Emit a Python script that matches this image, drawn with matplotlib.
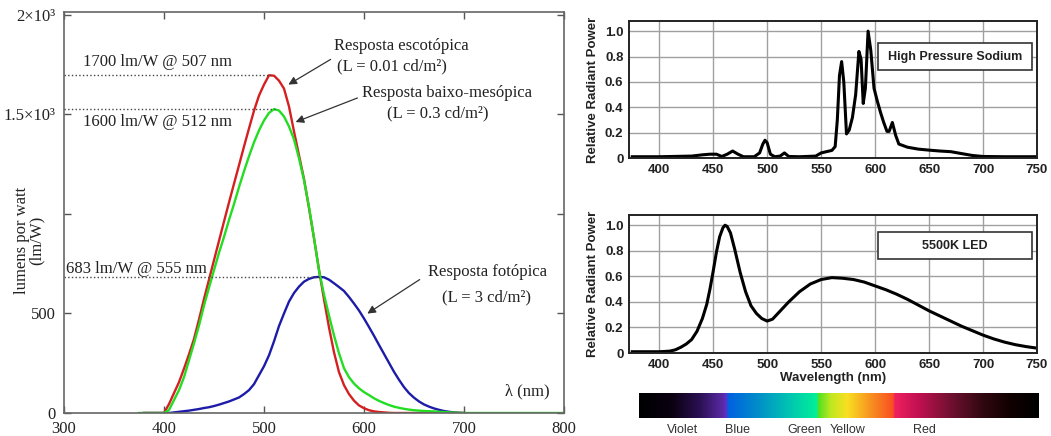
import numpy as np
import matplotlib
matplotlib.use('Agg')
import matplotlib.pyplot as plt
from matplotlib.colors import LinearSegmentedColormap
from matplotlib.patches import Rectangle

# Curvas de eficácia luminosa, passo de 5 nm de 380 a 700 nm
wl = np.arange(380, 705, 5)

escotopica = [0, 0, 0, 0, 0, 45, 100, 155, 223, 295,
              372, 470, 573, 670, 768, 865, 962, 1058, 1152, 1245,
              1339, 1430, 1519, 1595, 1650, 1697, 1695, 1670, 1630, 1540,
              1415, 1295, 1176, 1030, 878, 720, 571, 430, 305, 205,
              140, 95, 62, 38, 24, 14, 8, 5, 3, 1,
              0, 0, 0, 0, 0, 0, 0, 0, 0, 0,
              0, 0, 0, 0, 0]

mesopica = [0, 0, 0, 0, 0, 15, 65, 115, 180, 265,
            350, 440, 540, 630, 718, 805, 885, 970, 1050, 1135,
            1215, 1290, 1360, 1420, 1470, 1508, 1527, 1520, 1490, 1440,
            1375, 1280, 1170, 1035, 880, 715, 595, 490, 390, 300,
            225, 180, 148, 124, 105, 90, 74, 61, 50, 40,
            32, 26, 21, 17, 14, 12, 10, 9, 8, 6,
            5, 3, 2, 1, 0]

fotopica = [0, 0, 0, 0, 0, 0, 3, 6, 9, 12,
            16, 20, 25, 29, 35, 42, 50, 58, 68, 78,
            95, 115, 145, 190, 235, 290, 360, 437, 500, 560,
            603, 635, 660, 674, 682, 684, 682, 670, 652, 633,
            613, 583, 550, 515, 475, 432, 388, 342, 297, 252,
            207, 167, 130, 100, 77, 58, 43, 32, 23, 16,
            10, 6, 3, 1, 0]

# Espectro da lâmpada de sódio de alta pressão
hps_wl = [375, 400, 430, 440, 447, 453, 458, 463, 468, 473, 478, 488, 493, 496,
          498, 500, 503, 507, 512, 516, 520, 530, 545, 550, 555, 560, 563, 565,
          567, 569, 571, 573.5, 576, 579, 582, 585, 587, 589, 591, 593.5, 596,
          599, 602, 605, 608, 611, 613, 616, 619, 622, 630, 640, 650, 660, 670,
          680, 690, 700, 720, 750]
hps_pw = [0.01, 0.01, 0.015, 0.025, 0.03, 0.03, 0.012, 0.03, 0.055, 0.03, 0.01,
          0.01, 0.04, 0.11, 0.14, 0.12, 0.03, 0.01, 0.015, 0.04, 0.012, 0.01,
          0.015, 0.04, 0.05, 0.06, 0.09, 0.3, 0.65, 0.76, 0.6, 0.19, 0.22, 0.32,
          0.5, 0.84, 0.78, 0.43, 0.55, 1.0, 0.85, 0.55, 0.45, 0.36, 0.28, 0.21,
          0.21, 0.28, 0.18, 0.11, 0.085, 0.07, 0.062, 0.055, 0.05, 0.035, 0.02,
          0.012, 0.01, 0.01]

# Espectro do LED 5500K
led_wl = [375, 390, 400, 405, 410, 415, 420, 425, 430, 435, 440, 444, 447, 450,
          453, 456, 459, 461, 463, 466, 470, 475, 480, 485, 490, 495, 500, 505,
          510, 520, 530, 540, 550, 560, 570, 580, 590, 600, 610, 620, 630, 640,
          650, 660, 670, 680, 690, 700, 710, 720, 730, 740, 750]
led_pw = [0.01, 0.01, 0.01, 0.012, 0.015, 0.025, 0.045, 0.07, 0.105, 0.17, 0.27,
          0.38, 0.5, 0.64, 0.79, 0.91, 0.98, 1.0, 0.99, 0.94, 0.81, 0.63, 0.48,
          0.37, 0.31, 0.27, 0.25, 0.265, 0.31, 0.4, 0.48, 0.54, 0.575, 0.59,
          0.585, 0.575, 0.555, 0.525, 0.495, 0.46, 0.42, 0.375, 0.33, 0.29, 0.25,
          0.21, 0.175, 0.14, 0.11, 0.085, 0.065, 0.05, 0.038]

# Barra de cores do espectro visível
bar_pos = [0.0, 0.08, 0.15, 0.21, 0.218, 0.222, 0.30, 0.38, 0.445, 0.448, 0.48,
           0.52, 0.58, 0.635, 0.64, 0.70, 0.78, 0.86, 0.93, 1.0]
bar_cores = ['#000000', '#0a0010', '#2a1050', '#5a2aa8', '#6030c8', '#0060e0',
             '#0090c8', '#00c8b0', '#00f098', '#50e020', '#c0e820', '#f8e020',
             '#f89020', '#f85020', '#f02060', '#c01050', '#701030', '#300810',
             '#100000', '#000000']
bar_nomes = ['Violet', 'Blue', 'Green', 'Yellow', 'Red']
bar_x = [683, 738, 805, 848, 924]

serif = 'Liberation Serif'
sans = 'Liberation Sans'

fig = plt.figure(figsize=(10.51, 4.36), dpi=100)

# ---------- painel esquerdo ----------
ax = fig.add_axes([64 / 1051, 23 / 436, 500 / 1051, 401 / 436])
ax.plot(wl, fotopica, color='#1c1ca8', lw=1.7)
ax.plot(wl, escotopica, color='#d42020', lw=1.7)
ax.plot([375] + list(wl) + [800], [0] + mesopica + [0], color='#22dd22', lw=1.7)

ax.set_xlim(300, 800)
ax.set_ylim(0, 2015)
ax.set_xticks([300, 400, 500, 600, 700, 800])
ax.set_yticks([0, 500, 1000, 1500, 2000])
ax.set_yticklabels(['0', '500', '', '1.5×10³', '2×10³'])
ax.tick_params(direction='in', top=True, right=True, length=5, width=1,
               color='#555555', pad=6, labelsize=12)
for lab in ax.get_xticklabels() + ax.get_yticklabels():
    lab.set_fontfamily(serif)
    lab.set_color('#222222')
for s in ax.spines.values():
    s.set_color('#666666')
    s.set_linewidth(1.2)

# linhas pontilhadas dos picos
ax.plot([300, 507], [1700, 1700], ':', color='#444444', lw=1)
ax.plot([300, 511], [1527, 1527], ':', color='#444444', lw=1)
ax.plot([300, 557], [683, 683], ':', color='#444444', lw=1)

txt = dict(fontfamily=serif, fontsize=12, color='#222222', va='center')
ax.text(319, 1764, '1700 lm/W @ 507 nm', **txt)
ax.text(319, 1462, '1600 lm/W @ 512 nm', **txt)
ax.text(302, 724, '683 lm/W @ 555 nm', **txt)
ax.text(570, 1844, 'Resposta escotópica', **txt)
ax.text(573, 1744, '(L = 0.01 cd/m²)', **txt)
ax.text(598, 1608, 'Resposta baixo-mesópica', **txt)
ax.text(623, 1508, '(L = 0.3 cd/m²)', **txt)
ax.text(664, 709, 'Resposta fotópica', **txt)
ax.text(678, 583, '(L = 3 cd/m²)', **txt)
ax.text(763, 90, 'λ (nm)', ha='center', **{k: v for k, v in txt.items() if k != 'va'})

seta = dict(arrowstyle='-|>', color='#333333', lw=0.9, mutation_scale=12)
ax.annotate('', xy=(522, 1643), xytext=(569, 1784), arrowprops=seta)
ax.annotate('', xy=(529, 1457), xytext=(596, 1588), arrowprops=seta)
ax.annotate('', xy=(601, 492), xytext=(658, 678), arrowprops=seta)

fig.text(22 / 1051, 1 - 240 / 436, 'lumens por watt', rotation=90, ha='center',
         va='center', fontfamily=serif, fontsize=12, color='#222222')
fig.text(37 / 1051, 1 - 240 / 436, '(lm/W)', rotation=90, ha='center',
         va='center', fontfamily=serif, fontsize=12, color='#222222')


# ---------- painéis da direita ----------
def painel(rect, x, y, rotulo, caixa_y):
    a = fig.add_axes(rect)
    a.plot(x, y, color='black', lw=2.2, solid_joinstyle='round')
    a.set_xlim(372, 750)
    a.set_ylim(0, 1.08)
    a.set_xticks(range(400, 751, 50))
    a.set_yticks([0, 0.2, 0.4, 0.6, 0.8, 1.0])
    a.set_yticklabels(['0', '0.2', '0.4', '0.6', '0.8', '1.0'])
    a.grid(True, color='#a0a0a0', lw=1)
    a.set_axisbelow(True)
    a.tick_params(length=0, pad=4, labelsize=9.5, labelcolor='#222222')
    for lab in a.get_xticklabels() + a.get_yticklabels():
        lab.set_fontfamily(sans)
        lab.set_fontweight('bold')
    for s in a.spines.values():
        s.set_color('#222222')
        s.set_linewidth(1.4)
    a.set_ylabel('Relative Radiant Power', fontfamily=sans, fontweight='bold',
                 fontsize=9.5, color='#222222', labelpad=4)
    a.add_patch(Rectangle((0.61, caixa_y[0]), 0.378, caixa_y[1] - caixa_y[0],
                          transform=a.transAxes, facecolor='white',
                          edgecolor='#333333', lw=1.2, zorder=5))
    a.text(0.799, (caixa_y[0] + caixa_y[1]) / 2, rotulo, transform=a.transAxes,
           ha='center', va='center', fontfamily=sans, fontweight='bold',
           fontsize=9, color='#222222', zorder=6)
    return a


painel([629 / 1051, 278 / 436, 408 / 1051, 137 / 436], hps_wl, hps_pw,
       'High Pressure Sodium', (0.642, 0.839))
ax_led = painel([629 / 1051, 83 / 436, 408 / 1051, 138 / 436], led_wl, led_pw,
                '5500K LED', (0.68, 0.877))
ax_led.set_xlabel('Wavelength (nm)', fontfamily=sans, fontweight='bold',
                  fontsize=9.5, color='#222222', labelpad=1)

# barra do espectro
cb = fig.add_axes([639 / 1051, 18 / 436, 400 / 1051, 25 / 436])
cmap = LinearSegmentedColormap.from_list('espectro', list(zip(bar_pos, bar_cores)), N=512)
cb.imshow(np.linspace(0, 1, 512)[None, :], aspect='auto', cmap=cmap,
          extent=[0, 1, 0, 1])
cb.set_axis_off()
for nome, xp in zip(bar_nomes, bar_x):
    fig.text(xp / 1051, 1 - 430 / 436, nome, ha='center', va='center',
             fontfamily=sans, fontsize=9, color='#333333')

fig.savefig('out.png', dpi=100)
